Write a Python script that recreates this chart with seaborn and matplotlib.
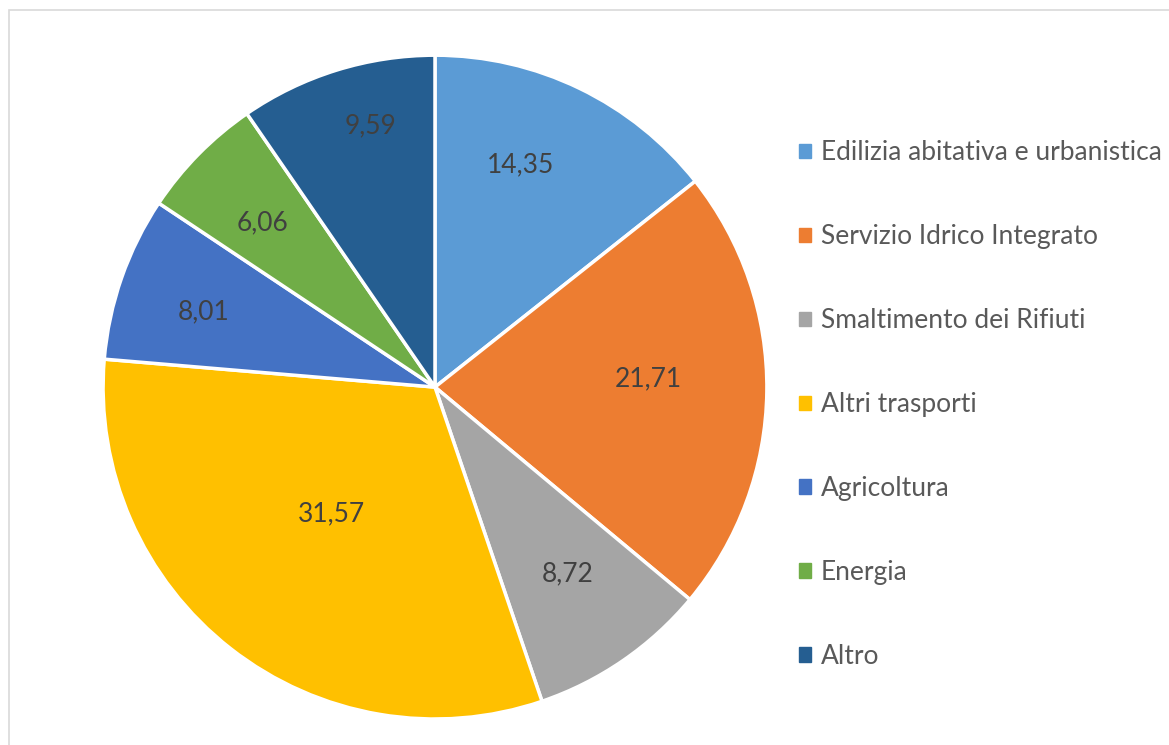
import numpy as np
import matplotlib
matplotlib.use("Agg")
import matplotlib.pyplot as plt
import matplotlib.patches as mpatches
import seaborn as sns

# ---------------- data ----------------
categories = ["Edilizia abitativa e urbanistica", "Servizio Idrico Integrato",
              "Smaltimento dei Rifiuti", "Altri trasporti", "Agricoltura",
              "Energia", "Altro"]
values = [14.35, 21.71, 8.72, 31.57, 8.01, 6.06, 9.59]
value_labels = ["14,35", "21,71", "8,72", "31,57", "8,01", "6,06", "9,59"]

colors = ["#5B9BD5", "#ED7D31", "#A5A5A5", "#FFC000", "#4472C4", "#70AD47", "#255E91"]
# label placement like excel's best fit: radius fraction and angle nudge (deg)
label_dist = [0.718, 0.644, 0.690, 0.492, 0.733, 0.716, 0.812]
label_nudge = [4.8, 3.0, 1.0, -1.3, 1.3, 1.0, -3.5]

sns.set_theme(style="white")
plt.rcParams["font.family"] = ["Lato", "DejaVu Sans"]

fig = plt.figure(figsize=(11.69, 7.45), dpi=100)
ax = fig.add_axes([0.0881, 0.0349, 0.568, 0.891])

wedges, _ = ax.pie(values, colors=colors, startangle=90, counterclock=False,
                   wedgeprops=dict(edgecolor="white", linewidth=2.5))
ax.set_xlim(-1, 1)
ax.set_ylim(-1, 1)
ax.set_aspect("equal")

for w, lab, d, n in zip(wedges, value_labels, label_dist, label_nudge):
    ang = np.deg2rad((w.theta1 + w.theta2) / 2 + n)
    ax.text(d * np.cos(ang), d * np.sin(ang), lab, ha="center", va="center",
            fontsize=19, color="#404040")

handles = [mpatches.Patch(color=c, label=l) for c, l in zip(colors, categories)]
fig.legend(handles=handles, loc="upper left", bbox_to_anchor=(0.6835, 0.812),
           frameon=False, fontsize=19, labelcolor="#595959",
           handlelength=0.45, handleheight=0.45, handletextpad=0.38,
           labelspacing=2.235, borderaxespad=0, borderpad=0)

# chart area border
fig.patches.append(mpatches.Rectangle((9 / 1169, -0.1), 1.2, 1 - 10 / 745 + 0.1,
                                      transform=fig.transFigure, fill=False,
                                      edgecolor="#D9D9D9", linewidth=1.2))

fig.savefig("out.png", dpi=100)
